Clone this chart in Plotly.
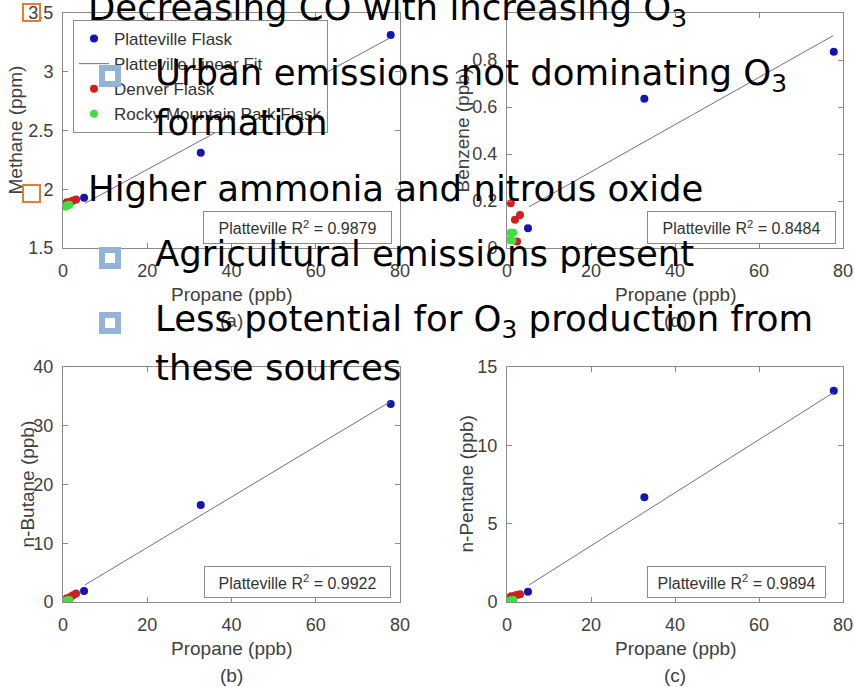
import plotly.graph_objects as go

W, H = 854, 687

# ---------------- data ----------------
blue_propane = [5.0, 32.7, 77.8]
red_propane = [0.9, 1.9, 2.4, 3.1]
green_propane = [0.6, 0.9, 1.3, 1.5]
fit_propane = [5.2, 77.7]

methane_blue = [1.928, 2.311, 3.313]
methane_red = [1.89, 1.895, 1.905, 1.912]
methane_green = [1.852, 1.862, 1.865, 1.868]
methane_fit = [1.88, 3.29]

benzene_blue = [0.084, 0.635, 0.835]
benzene_red = [0.19, 0.12, 0.028, 0.14]
benzene_green = [0.035, 0.065, 0.032, 0.065]
benzene_fit = [0.175, 0.904]

butane_blue = [1.87, 16.5, 33.7]
butane_red = [0.65, 0.95, 1.15, 1.45]
butane_green = [0.2, 0.25, 0.3, 0.35]
butane_fit = [2.9, 34.1]

pentane_blue = [0.66, 6.68, 13.49]
pentane_red = [0.36, 0.42, 0.45, 0.5]
pentane_green = [0.08, 0.1, 0.12, 0.13]
pentane_fit = [1.08, 13.36]

r2_values = ["0.9879", "0.8484", "0.9922", "0.9894"]
panel_letters = ["(a)", "(d)", "(b)", "(c)"]
x_title = "Propane (ppb)"
y_titles = ["Methane (ppm)", "Benzene (ppb)", "n-Butane (ppb)", "n-Pentane (ppb)"]
y_ranges = [[1.5, 3.5], [0, 1.0], [0, 40], [0, 15]]
y_ticks = [[1.5, 2, 2.5, 3, 3.5], [0, 0.2, 0.4, 0.6, 0.8], [0, 10, 20, 30, 40], [0, 5, 10, 15]]
x_ticks = [0, 20, 40, 60, 80]

slide_lines = [
    ("Decreasing CO with increasing O<sub>3</sub>", 1),
    ("Urban emissions not dominating O<sub>3</sub>", 2),
    ("formation", 2),
    ("Higher ammonia and nitrous oxide", 1),
    ("Agricultural emissions present", 2),
    ("Less potential for O<sub>3</sub> production from", 2),
    ("these sources", 2),
]
slide_baselines = [22, 87, 137, 203, 268, 333, 382]
bullet_rows = [(1, 22), (2, 87), (1, 203), (2, 268), (2, 333)]

# ---------------- style ----------------
BLUE = "#1414b4"
RED = "#d21e1e"
GREEN = "#3ee03e"
FIT = "#6c6c98"
AX = "#8a8a8a"
TXT = "#404040"
MFONT = "Liberation Sans, Arial, sans-serif"

def px(x):
    return x / W

def py(y):
    return 1 - y / H

# panel pixel boxes: (x0, x1, ytop, ybottom)
boxes = [(63, 400, 13, 248), (507, 843, 13, 248), (63, 400, 367, 602), (507, 843, 367, 602)]
x_title_y = [295, 295, 648, 648]
letter_y = [320, 320, 675, 675]
y_title_x = [15, 462, 27, 466]
panels = [
    (methane_blue, methane_red, methane_green, methane_fit),
    (benzene_blue, benzene_red, benzene_green, benzene_fit),
    (butane_blue, butane_red, butane_green, butane_fit),
    (pentane_blue, pentane_red, pentane_green, pentane_fit),
]

fig = go.Figure()
layout = dict(
    width=W, height=H, margin=dict(l=0, r=0, t=0, b=0, autoexpand=False),
    paper_bgcolor="white", plot_bgcolor="white", showlegend=True,
)
annotations = []

for i, ((bl, rd, gr, ft), (x0, x1, yt, yb)) in enumerate(zip(panels, boxes)):
    n = "" if i == 0 else str(i + 1)
    xa, ya = "x" + n, "y" + n
    show = i == 0
    fig.add_trace(go.Scatter(x=blue_propane, y=bl, mode="markers", name="Platteville Flask",
                             marker=dict(color=BLUE, size=8), xaxis=xa, yaxis=ya, showlegend=show))
    fig.add_trace(go.Scatter(x=fit_propane, y=ft, mode="lines", name="Platteville Linear Fit",
                             line=dict(color=FIT, width=1), xaxis=xa, yaxis=ya, showlegend=show))
    fig.add_trace(go.Scatter(x=red_propane, y=rd, mode="markers", name="Denver Flask",
                             marker=dict(color=RED, size=8), xaxis=xa, yaxis=ya, showlegend=show))
    fig.add_trace(go.Scatter(x=green_propane, y=gr, mode="markers", name="Rocky Mountain Park Flask",
                             marker=dict(color=GREEN, size=8), xaxis=xa, yaxis=ya, showlegend=show))
    common = dict(showline=True, linecolor=AX, linewidth=1, mirror="allticks", ticks="inside",
                  ticklen=5, tickcolor=AX, showgrid=False, zeroline=False, automargin=False,
                  tickfont=dict(family=MFONT, size=18, color=TXT))
    layout["xaxis" + n] = dict(common, domain=[px(x0), px(x1)], range=[0, 80], tickvals=x_ticks,
                               anchor=ya, ticklabelstandoff=6)
    layout["yaxis" + n] = dict(common, domain=[py(yb), py(yt)], range=y_ranges[i], tickvals=y_ticks[i],
                               anchor=xa, ticklabelstandoff=5)
    # axis titles and panel letter
    annotations.append(dict(xref="paper", yref="paper", x=px((x0 + x1) / 2), y=py(x_title_y[i]),
                            xanchor="center", yanchor="middle", showarrow=False, text=x_title,
                            font=dict(family=MFONT, size=19, color=TXT)))
    annotations.append(dict(xref="paper", yref="paper", x=px((x0 + x1) / 2), y=py(letter_y[i]),
                            xanchor="center", yanchor="middle", showarrow=False, text=panel_letters[i],
                            font=dict(family=MFONT, size=19, color=TXT)))
    annotations.append(dict(xref="paper", yref="paper", x=px(y_title_x[i]), y=py((yt + yb) / 2),
                            xanchor="center", yanchor="middle", showarrow=False, text=y_titles[i],
                            textangle=-90, font=dict(family=MFONT, size=19, color=TXT)))

r2_boxes = [(203, 392, 211, 244), (647, 836, 211, 244), (204, 391, 566, 598), (647, 826, 566, 598)]
for (bx0, bx1, by0, by1), r2 in zip(r2_boxes, r2_values):
    annotations.append(dict(
        xref="paper", yref="paper", x=px((bx0 + bx1) / 2), y=py((by0 + by1) / 2),
        xanchor="center", yanchor="middle", showarrow=False,
        text="Platteville R<sup>2</sup> = " + r2,
        font=dict(family=MFONT, size=16, color="#333333"),
        bordercolor=AX, borderwidth=1, borderpad=0, bgcolor="white",
        width=bx1 - bx0 - 2, height=by1 - by0 - 2, align="center", valign="middle"))

# slide bullets (drawn as bordered empty annotations so they sit above the legend)
for level, base in bullet_rows:
    if level == 1:
        annotations.append(dict(xref="paper", yref="paper", x=px(31), y=py(base - 9.5),
                                xanchor="center", yanchor="middle", showarrow=False, text=" ",
                                width=15, height=15, borderpad=0, borderwidth=2,
                                bordercolor="#e47c3a", bgcolor="rgba(0,0,0,0)"))
    else:
        annotations.append(dict(xref="paper", yref="paper", x=px(110), y=py(base - 10.5),
                                xanchor="center", yanchor="middle", showarrow=False, text=" ",
                                width=10, height=10, borderpad=0, borderwidth=6,
                                bordercolor="#93b3d7", bgcolor="white"))

SFONT = "DejaVu Sans, sans-serif"
SSIZE = 35.5
for (txt, level), base in zip(slide_lines, slide_baselines):
    annotations.append(dict(
        xref="paper", yref="paper", x=px(86 if level == 1 else 153), y=py(base - 1.04 * SSIZE),
        xanchor="left", yanchor="top", showarrow=False, text=txt,
        font=dict(family=SFONT, size=SSIZE, color="black")))

layout["annotations"] = annotations
layout["legend"] = dict(x=px(73), y=py(20), xanchor="left", yanchor="top",
                        bgcolor="white", bordercolor=AX, borderwidth=1,
                        font=dict(family=MFONT, size=17, color="#333333"),
                        tracegroupgap=0, itemwidth=30)
fig.update_layout(**layout)
fig.write_html("out.html")
